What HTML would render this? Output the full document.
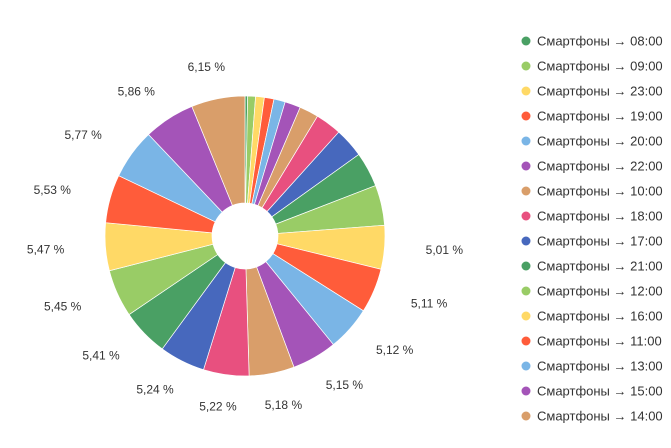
<!DOCTYPE html>
<html><head><meta charset="utf-8"><style>
body{margin:0;background:#fff;font-family:"Liberation Sans",sans-serif;}
svg text{font-family:"Liberation Sans",sans-serif;}
</style></head><body>
<svg id="c" width="671" height="443"></svg>
<script>
const categories=["08:00","09:00","23:00","19:00","20:00","22:00","10:00","18:00","17:00","21:00","12:00","16:00","11:00","13:00","15:00","14:00","07:00","06:00","00:00","01:00","05:00","02:00","03:00","04:00","24:00"];
const values=[0.3,0.9,1.0,1.1,1.3,1.8,2.2,3.0,3.4,4.0,4.6,5.01,5.11,5.12,5.15,5.18,5.22,5.24,5.41,5.45,5.47,5.53,5.77,5.86,6.15];
const labels=values.map(v=>v.toFixed(2).replace('.',',')+' %');
const colors=["#4aa064","#99cc66","#ffd966","#ff5c3a","#7ab5e6","#a454b8","#d99e6a","#e8507f","#4768bd"];
const palette=["#4aa064","#99cc66","#ffd966","#ff5c3a","#7ab5e6","#a454b8","#d99e6a","#e8507f","#4768bd"];
const NS="http://www.w3.org/2000/svg";
const svg=document.getElementById('c');
const cx=245,cy=236,R=140,r0=33;
const total=values.reduce((a,b)=>a+b,0);
function pt(a,rad){return [cx+rad*Math.cos(a),cy+rad*Math.sin(a)];}
let a=-Math.PI/2;
values.forEach((v,i)=>{
  const da=v/total*2*Math.PI,a2=a+da;
  const [x1,y1]=pt(a,R),[x2,y2]=pt(a2,R),[x3,y3]=pt(a2,r0),[x4,y4]=pt(a,r0);
  const lg=da>Math.PI?1:0;
  const p=document.createElementNS(NS,'path');
  p.setAttribute('d',`M${x1},${y1}A${R},${R} 0 ${lg} 1 ${x2},${y2}L${x3},${y3}A${r0},${r0} 0 ${lg} 0 ${x4},${y4}Z`);
  p.setAttribute('fill',palette[i%palette.length]);
  p.setAttribute('stroke','#fff');p.setAttribute('stroke-width','0.7');
  
  
  svg.appendChild(p);
  if(v>=5){
    const m=(a+a2)/2;
    const t=document.createElementNS(NS,'text');
    t.setAttribute('x',cx+200*Math.cos(m));t.setAttribute('y',cy+172*Math.sin(m)+4);
    t.setAttribute('text-anchor','middle');t.setAttribute('font-size','12');t.setAttribute('fill','#333');
    t.textContent=labels[i];
    
    
    svg.appendChild(t);
  }
  a=a2;
});
for(let i=0;i<16;i++){
  const y=41+i*25;
  const g=document.createElementNS(NS,'g');
  
  
  const c=document.createElementNS(NS,'circle');
  c.setAttribute('cx',526);c.setAttribute('cy',y);c.setAttribute('r',4.5);c.setAttribute('fill',palette[i%palette.length]);
  g.appendChild(c);
  const t=document.createElementNS(NS,'text');
  t.setAttribute('x',537);t.setAttribute('y',y+4.5);t.setAttribute('font-size','13');t.setAttribute('fill','#333');
  t.textContent='Смартфоны → '+categories[i];
  g.appendChild(t);
  svg.appendChild(g);
}
</script>
</body></html>
